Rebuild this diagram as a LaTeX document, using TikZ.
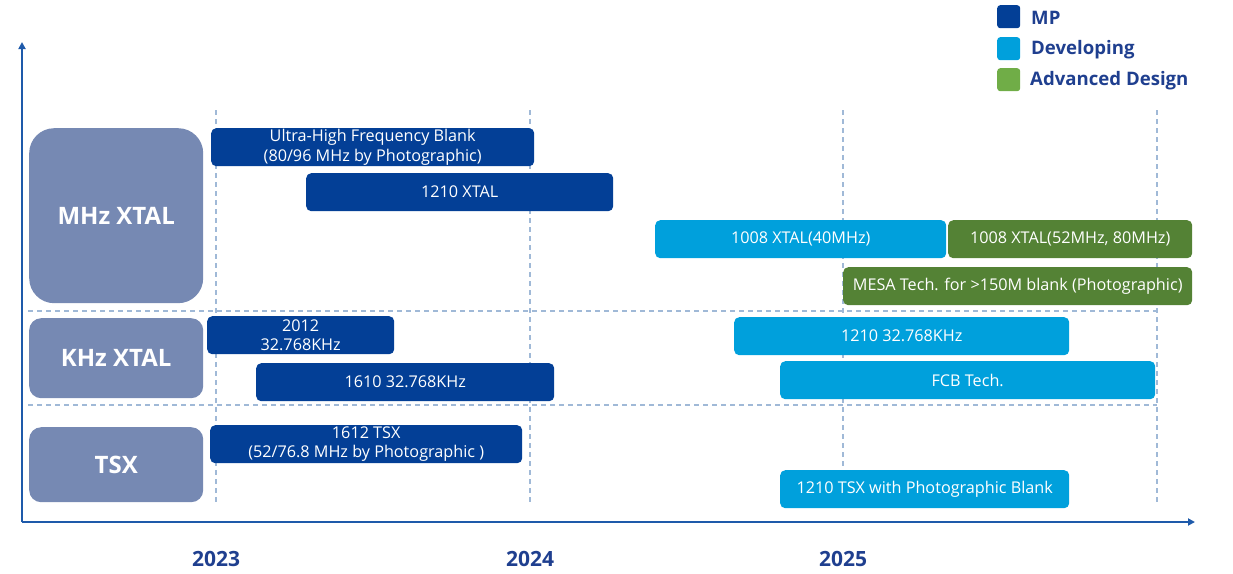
\documentclass[tikz,border=0pt]{standalone}
\usepackage{fontspec}
\setmainfont{Open Sans}
\usetikzlibrary{arrows.meta}
\definecolor{mpc}{RGB}{3,63,150}
\definecolor{devc}{RGB}{0,160,220}
\definecolor{advc}{RGB}{84,130,53}
\definecolor{advleg}{RGB}{112,173,71}
\definecolor{catc}{RGB}{118,137,179}
\definecolor{gridc}{RGB}{160,185,215}
\definecolor{axisc}{RGB}{30,90,170}
\definecolor{titlec}{RGB}{31,63,143}
\tikzset{
  barbox/.style={rounded corners=5pt, anchor=north west, inner sep=0pt, text=white,
    font=\fontsize{16.2}{19.5}\selectfont, align=center},
  mpbar/.style={barbox, fill=mpc},
  devbar/.style={barbox, fill=devc},
  advbar/.style={barbox, fill=advc},
  catbox/.style={fill=catc, anchor=north west, inner sep=0pt, text=white,
    font=\fontsize{24}{28}\selectfont\bfseries},
  gridline/.style={gridc, line width=1.2pt, dash pattern=on 5pt off 4pt},
  axisline/.style={axisc, line width=2pt, -{Triangle[width=7pt,length=7pt]}},
  legsq/.style={anchor=north west, inner sep=0pt, minimum width=23pt, minimum height=23pt, rounded corners=3pt},
  legtext/.style={anchor=west, text=titlec, font=\fontsize{18.6}{22}\selectfont\bfseries, inner sep=0pt},
  yeartext/.style={text=titlec, font=\fontsize{21}{25}\selectfont\bfseries, inner sep=0pt}
}
\begin{document}
\begin{tikzpicture}[x=1pt,y=-1pt]
\useasboundingbox (0,0) rectangle (1233,573);
% grid
\foreach \xx in {216,530,843,1157} \draw[gridline] (\xx,110) -- (\xx,505);
\draw[gridline] (28,311) -- (1157,311);
\draw[gridline] (28,405) -- (1157,405);
% axes
\coordinate (O) at (22,522);
\coordinate (ytip) at (22,42);
\coordinate (xtip) at (1195,522);
\draw[axisline] (O) -- (ytip);
\draw[axisline] (O) -- (xtip);
% categories
\node[catbox, rounded corners=25pt, minimum width=174pt, minimum height=175pt] (mhz) at (29,128) {MHz XTAL};
\node[catbox, rounded corners=12pt, minimum width=174pt, minimum height=80pt] (khz) at (29,318) {KHz XTAL};
\node[catbox, rounded corners=12pt, minimum width=174pt, minimum height=75pt] (tsx) at (29,427) {TSX};
% MHz bars
\node[mpbar, minimum width=323pt, minimum height=38pt] (uhf) at (211,128) {Ultra-High Frequency Blank\\(80/96 MHz by Photographic)};
\node[mpbar, minimum width=307pt, minimum height=38pt] (x1210) at (306,173) {1210 XTAL};
\node[devbar, minimum width=291pt, minimum height=38pt] (x1008a) at (655,220) {1008 XTAL(40MHz)};
\node[advbar, minimum width=244pt, minimum height=38pt] (x1008b) at (948,220) {1008 XTAL(52MHz, 80MHz)};
\node[advbar, minimum width=349pt, minimum height=38pt] (mesa) at (843,267) {MESA Tech. for >150M blank (Photographic)};
% KHz bars
\node[mpbar, minimum width=187pt, minimum height=38pt] (k2012) at (207,316) {2012\\32.768KHz};
\node[mpbar, minimum width=298pt, minimum height=38pt] (k1610) at (256,363) {1610 32.768KHz};
\node[devbar, minimum width=335pt, minimum height=38pt] (k1210) at (734,317) {1210 32.768KHz};
\node[devbar, minimum width=375pt, minimum height=38pt] (fcb) at (780,361) {FCB Tech.};
% TSX bars
\node[mpbar, minimum width=312pt, minimum height=38pt] (t1612) at (210,425) {1612 TSX\\(52/76.8 MHz by Photographic )};
\node[devbar, minimum width=289pt, minimum height=38pt] (t1210) at (780,470) {1210 TSX with Photographic Blank};
% legend
\node[legsq, fill=mpc] (lmp) at (997,5) {};
\node[legsq, fill=devc] (ldev) at (997,37) {};
\node[legsq, fill=advleg] (ladv) at (997,68) {};
\node[legtext] (tmp) at (1031,18) {MP};
\node[legtext] (tdev) at (1031,50) {Developing};
\node[legtext] (tadv) at (1030,81) {Advanced Design};
% years
\node[yeartext] (y2023) at (216,559) {2023};
\node[yeartext] (y2024) at (530,559) {2024};
\node[yeartext] (y2025) at (843,559) {2025};
\end{tikzpicture}
\end{document}
